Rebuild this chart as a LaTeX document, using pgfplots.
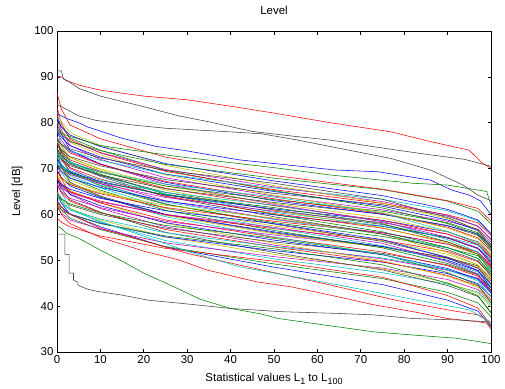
\documentclass[border=0pt]{standalone}
\usepackage{fontspec}
\setmainfont{Liberation Sans}
\usepackage{pgfplots}
\pgfplotsset{compat=1.18}
\definecolor{mb}{rgb}{0,0,1}
\definecolor{mg}{rgb}{0,0.5,0}
\definecolor{mr}{rgb}{1,0,0}
\definecolor{mc}{rgb}{0,0.75,0.75}
\definecolor{mm}{rgb}{0.75,0,0.75}
\definecolor{my}{rgb}{0.75,0.75,0}
\definecolor{mk}{rgb}{0.25,0.25,0.25}
\begin{document}
\begin{tikzpicture}
\useasboundingbox (-57bp,-37bp) rectangle (448bp,352bp);
\begin{axis}[
  at={(0,0)}, anchor=south west,
  scale only axis, width=434bp, height=321bp,
  xmin=0, xmax=100, ymin=30, ymax=100,
  xtick={0,10,...,100}, ytick={30,40,...,100},
  tick pos=both,
  tick align=inside, major tick length=3.5bp,
  axis line style={line width=0.9pt},
  every tick/.style={black, line width=0.7pt},
  font=\fontsize{11.5}{13}\selectfont,
  ticklabel style={font=\fontsize{11.5}{13}\selectfont},
  /pgf/number format/assume math mode=true,
  title={Level},
  title style={at={(rel axis cs:0.5,1)}, anchor=base, yshift=11bp, font=\fontsize{11.5}{13}\selectfont},
  xlabel={Statistical values L\raisebox{-3bp}{\fontsize{9}{9}\selectfont 1} to L\raisebox{-3bp}{\fontsize{9}{9}\selectfont 100}},
  xlabel style={at={(rel axis cs:0.5,0)}, anchor=base, yshift=-29bp},
  cycle list={{mb},{mg},{mr},{mc},{mm},{my},{mk}},
  every axis plot/.append style={line width=0.55pt},
  no markers,
]
% bulk series: x = 0,1,3,10,25,50,75,90,97,100
\addplot coordinates {(0,64.5)(1,62.5)(3,60.0)(10,57.3)(25,52.9)(50,48.5)(75,44.7)(90,41.3)(97,38.9)(100,35.5)};
\addplot coordinates {(0,62.7)(1,61.0)(3,59.2)(10,56.7)(25,53.0)(50,49.2)(75,46.0)(90,43.0)(97,40.7)(100,37.7)};
\addplot coordinates {(0,59.3)(1,58.3)(3,57.3)(10,55.3)(25,52.6)(50,49.8)(75,46.3)(90,42.3)(97,39.6)(100,35.8)};
\addplot coordinates {(0,68.3)(1,64.8)(3,61.3)(10,58.3)(25,54.3)(50,50.3)(75,47.3)(90,44.8)(97,43.1)(100,40.3)};
\addplot coordinates {(0,61.8)(1,60.3)(3,58.8)(10,56.8)(25,53.8)(50,50.8)(75,48.3)(90,45.8)(97,43.6)(100,40.8)};
\addplot coordinates {(0,64.8)(1,63.1)(3,61.3)(10,58.8)(25,55.1)(50,51.3)(75,48.1)(90,45.1)(97,42.8)(100,39.8)};
\addplot coordinates {(0,67.7)(1,65.7)(3,63.2)(10,60.5)(25,56.1)(50,51.7)(75,47.9)(90,44.5)(97,42.1)(100,38.7)};
\addplot coordinates {(0,63.1)(1,61.6)(3,60.1)(10,58.1)(25,55.1)(50,52.1)(75,49.6)(90,47.1)(97,44.9)(100,42.1)};
\addplot coordinates {(0,62.0)(1,61.0)(3,60.0)(10,58.0)(25,55.3)(50,52.5)(75,49.0)(90,45.0)(97,42.3)(100,38.5)};
\addplot coordinates {(0,66.4)(1,64.7)(3,62.9)(10,60.4)(25,56.7)(50,52.9)(75,49.7)(90,46.7)(97,44.4)(100,41.4)};
\addplot coordinates {(0,64.0)(1,62.5)(3,61.0)(10,59.0)(25,56.0)(50,53.0)(75,50.5)(90,48.0)(97,45.8)(100,43.0)};
\addplot coordinates {(0,71.3)(1,67.8)(3,64.3)(10,61.3)(25,57.3)(50,53.3)(75,50.3)(90,47.8)(97,46.1)(100,43.3)};
\addplot coordinates {(0,69.7)(1,67.7)(3,65.2)(10,62.5)(25,58.1)(50,53.7)(75,49.9)(90,46.5)(97,44.1)(100,40.7)};
\addplot coordinates {(0,65.0)(1,63.5)(3,62.0)(10,60.0)(25,57.0)(50,54.0)(75,51.5)(90,49.0)(97,46.8)(100,44.0)};
\addplot coordinates {(0,67.9)(1,66.2)(3,64.4)(10,61.9)(25,58.2)(50,54.4)(75,51.2)(90,48.2)(97,45.9)(100,42.9)};
\addplot coordinates {(0,64.3)(1,63.3)(3,62.3)(10,60.3)(25,57.6)(50,54.8)(75,51.3)(90,47.3)(97,44.6)(100,40.8)};
\addplot coordinates {(0,68.5)(1,66.8)(3,65.0)(10,62.5)(25,58.8)(50,55.0)(75,51.8)(90,48.8)(97,46.5)(100,43.5)};
\addplot coordinates {(0,71.1)(1,69.1)(3,66.6)(10,63.9)(25,59.5)(50,55.1)(75,51.3)(90,47.9)(97,45.5)(100,42.1)};
\addplot coordinates {(0,66.5)(1,65.0)(3,63.5)(10,61.5)(25,58.5)(50,55.5)(75,53.0)(90,50.5)(97,48.3)(100,45.5)};
\addplot coordinates {(0,73.8)(1,70.3)(3,66.8)(10,63.8)(25,59.8)(50,55.8)(75,52.8)(90,50.3)(97,48.6)(100,45.8)};
\addplot coordinates {(0,74.0)(1,70.5)(3,67.0)(10,64.0)(25,60.0)(50,56.0)(75,53.0)(90,50.5)(97,48.8)(100,46.0)};
\addplot coordinates {(0,69.7)(1,68.0)(3,66.2)(10,63.7)(25,60.0)(50,56.2)(75,53.0)(90,50.0)(97,47.7)(100,44.7)};
\addplot coordinates {(0,72.5)(1,70.5)(3,68.0)(10,65.3)(25,60.9)(50,56.5)(75,52.7)(90,49.3)(97,46.9)(100,43.5)};
\addplot coordinates {(0,67.9)(1,66.4)(3,64.9)(10,62.9)(25,59.9)(50,56.9)(75,54.4)(90,51.9)(97,49.7)(100,46.9)};
\addplot coordinates {(0,73.0)(1,71.0)(3,68.5)(10,65.8)(25,61.4)(50,57.0)(75,53.2)(90,49.8)(97,47.4)(100,44.0)};
\addplot coordinates {(0,66.7)(1,65.7)(3,64.7)(10,62.7)(25,60.0)(50,57.2)(75,53.7)(90,49.7)(97,47.0)(100,43.2)};
\addplot coordinates {(0,71.0)(1,69.3)(3,67.5)(10,65.0)(25,61.3)(50,57.5)(75,54.3)(90,51.3)(97,49.0)(100,46.0)};
\addplot coordinates {(0,73.9)(1,71.9)(3,69.4)(10,66.7)(25,62.3)(50,57.9)(75,54.1)(90,50.7)(97,48.3)(100,44.9)};
\addplot coordinates {(0,67.5)(1,66.5)(3,65.5)(10,63.5)(25,60.8)(50,58.0)(75,54.5)(90,50.5)(97,47.8)(100,44.0)};
\addplot coordinates {(0,76.2)(1,72.7)(3,69.2)(10,66.2)(25,62.2)(50,58.2)(75,55.2)(90,52.7)(97,51.0)(100,48.2)};
\addplot coordinates {(0,69.5)(1,68.0)(3,66.5)(10,64.5)(25,61.5)(50,58.5)(75,56.0)(90,53.5)(97,51.3)(100,48.5)};
\addplot coordinates {(0,72.4)(1,70.7)(3,68.9)(10,66.4)(25,62.7)(50,58.9)(75,55.7)(90,52.7)(97,50.4)(100,47.4)};
\addplot coordinates {(0,77.0)(1,73.5)(3,70.0)(10,67.0)(25,63.0)(50,59.0)(75,56.0)(90,53.5)(97,51.8)(100,49.0)};
\addplot coordinates {(0,68.7)(1,67.7)(3,66.7)(10,64.7)(25,62.0)(50,59.2)(75,55.7)(90,51.7)(97,49.0)(100,45.2)};
\addplot coordinates {(0,75.5)(1,73.5)(3,71.0)(10,68.3)(25,63.9)(50,59.5)(75,55.7)(90,52.3)(97,49.9)(100,46.5)};
\addplot coordinates {(0,70.9)(1,69.4)(3,67.9)(10,65.9)(25,62.9)(50,59.9)(75,57.4)(90,54.9)(97,52.7)(100,49.9)};
\addplot coordinates {(0,76.0)(1,74.0)(3,71.5)(10,68.8)(25,64.4)(50,60.0)(75,56.2)(90,52.8)(97,50.4)(100,47.0)};
\addplot coordinates {(0,73.7)(1,72.0)(3,70.2)(10,67.7)(25,64.0)(50,60.2)(75,57.0)(90,54.0)(97,51.7)(100,48.7)};
\addplot coordinates {(0,78.5)(1,75.0)(3,71.5)(10,68.5)(25,64.5)(50,60.5)(75,57.5)(90,55.0)(97,53.3)(100,50.5)};
\addplot coordinates {(0,71.7)(1,70.2)(3,68.7)(10,66.7)(25,63.7)(50,60.7)(75,58.2)(90,55.7)(97,53.5)(100,50.7)};
\addplot coordinates {(0,76.9)(1,74.9)(3,72.4)(10,69.7)(25,65.3)(50,60.9)(75,57.1)(90,53.7)(97,51.3)(100,47.9)};
\addplot coordinates {(0,74.5)(1,72.8)(3,71.0)(10,68.5)(25,64.8)(50,61.0)(75,57.8)(90,54.8)(97,52.5)(100,49.5)};
\addplot coordinates {(0,72.2)(1,70.7)(3,69.2)(10,67.2)(25,64.2)(50,61.2)(75,58.7)(90,56.2)(97,54.0)(100,51.2)};
\addplot coordinates {(0,71.0)(1,70.0)(3,69.0)(10,67.0)(25,64.3)(50,61.5)(75,58.0)(90,54.0)(97,51.3)(100,47.5)};
\addplot coordinates {(0,75.4)(1,73.7)(3,71.9)(10,69.4)(25,65.7)(50,61.9)(75,58.7)(90,55.7)(97,53.4)(100,50.4)};
\addplot coordinates {(0,71.5)(1,70.5)(3,69.5)(10,67.5)(25,64.8)(50,62.0)(75,58.5)(90,54.5)(97,51.8)(100,48.0)};
\addplot coordinates {(0,78.2)(1,76.2)(3,73.7)(10,71.0)(25,66.6)(50,62.2)(75,58.4)(90,55.0)(97,52.6)(100,49.2)};
\addplot coordinates {(0,75.9)(1,74.2)(3,72.4)(10,69.9)(25,66.2)(50,62.4)(75,59.2)(90,56.2)(97,53.9)(100,50.9)};
\addplot coordinates {(0,73.6)(1,72.1)(3,70.6)(10,68.6)(25,65.6)(50,62.6)(75,60.1)(90,57.6)(97,55.4)(100,52.6)};
\addplot coordinates {(0,81.0)(1,77.5)(3,74.0)(10,71.0)(25,67.0)(50,63.0)(75,60.0)(90,57.5)(97,55.8)(100,53.0)};
\addplot coordinates {(0,74.2)(1,72.7)(3,71.2)(10,69.2)(25,66.2)(50,63.2)(75,60.7)(90,58.2)(97,56.0)(100,53.2)};
\addplot coordinates {(0,76.9)(1,75.2)(3,73.4)(10,70.9)(25,67.2)(50,63.4)(75,60.2)(90,57.2)(97,54.9)(100,51.9)};
\addplot coordinates {(0,73.3)(1,72.3)(3,71.3)(10,69.3)(25,66.6)(50,63.8)(75,60.3)(90,56.3)(97,53.6)(100,49.8)};
\addplot coordinates {(0,82.0)(1,78.5)(3,75.0)(10,72.0)(25,68.0)(50,64.0)(75,61.0)(90,58.5)(97,56.8)(100,54.0)};
\addplot coordinates {(0,80.2)(1,78.2)(3,75.7)(10,73.0)(25,68.6)(50,64.2)(75,60.4)(90,57.0)(97,54.6)(100,51.2)};
\addplot coordinates {(0,75.6)(1,74.1)(3,72.6)(10,70.6)(25,67.6)(50,64.6)(75,62.1)(90,59.6)(97,57.4)(100,54.6)};
\addplot coordinates {(0,78.5)(1,76.8)(3,75.0)(10,72.5)(25,68.8)(50,65.0)(75,61.8)(90,58.8)(97,56.5)(100,53.5)};
\addplot coordinates {(0,81.2)(1,79.2)(3,76.7)(10,74.0)(25,69.6)(50,65.2)(75,61.4)(90,58.0)(97,55.6)(100,52.2)};
\addplot coordinates {(0,83.4)(1,79.9)(3,76.4)(10,73.4)(25,69.4)(50,65.4)(75,62.4)(90,59.9)(97,58.2)(100,55.4)};
\addplot coordinates {(0,76.8)(1,75.3)(3,73.8)(10,71.8)(25,68.8)(50,65.8)(75,63.3)(90,60.8)(97,58.6)(100,55.8)};
\addplot coordinates {(0,79.5)(1,77.8)(3,76.0)(10,73.5)(25,69.8)(50,66.0)(75,62.8)(90,59.8)(97,57.5)(100,54.5)};
\addplot coordinates {(0,82.3)(1,80.3)(3,77.8)(10,75.1)(25,70.7)(50,66.3)(75,62.5)(90,59.1)(97,56.7)(100,53.3)};
\addplot coordinates {(0,76.3)(1,75.3)(3,74.3)(10,72.3)(25,69.6)(50,66.8)(75,63.3)(90,59.3)(97,56.6)(100,52.8)};
\addplot coordinates {(0,80.8)(1,79.1)(3,77.3)(10,74.8)(25,71.1)(50,67.3)(75,64.1)(90,61.1)(97,58.8)(100,55.8)};
\addplot coordinates {(0,78.9)(1,77.4)(3,75.9)(10,73.9)(25,70.9)(50,67.9)(75,65.4)(90,62.9)(97,60.7)(100,57.9)};
\addplot coordinates {(0,86.5)(1,83.0)(3,79.5)(10,76.5)(25,72.5)(50,68.5)(75,65.5)(90,63.0)(97,61.3)(100,58.5)};
% distinct curves
\addplot[mb] coordinates {(0,82)(2,81)(5,80)(7,79.1)(15,76.6)(23,74.8)(29,74)(42,71.9)(64,69.7)(74,69.3)(86,67.5)(91,65.3)(95,64.2)(97.5,63)(100,60)};
\addplot[mg] coordinates {(0,78)(3,77)(10,75)(28,72.6)(50,70.2)(63,68.6)(82,66.8)(90,66.4)(99,65)(100,62)};
\addplot[mr] coordinates {(0,62)(1,60)(3,58)(10,55)(20,52)(28,50.1)(34.5,47.9)(46,45.3)(54,44.2)(63,42.4)(73,40.3)(82,38.8)(90,37.3)(97,36.6)(99,36.3)(100,35)};
\addplot[mr] coordinates {(0,63)(2,60.5)(10,57)(30,51.5)(50,47.3)(63,44.6)(78,41.3)(90,39.2)(97,38.1)(100,36.5)};
\addplot[mc] coordinates {(0,64)(3,61)(10,58.5)(30,52)(42,48.6)(65,44.6)(83,41.3)(95,39.2)(99,37)(100,36)};
\addplot[mr] coordinates {(0,90.2)(1,90)(2,89.3)(5,88.2)(10,87.1)(20,85.8)(30,85.0)(40,83.6)(50,82.1)(63,80.0)(77,78.0)(86,75.9)(95,74.0)(98,71.2)(100,70.1)};
\addplot[mk] coordinates {(0,91.3)(1,91.3)(1.5,89.5)(3,88.8)(5,87.5)(10,85.8)(20,83.5)(28,81.5)(35,80.2)(45,78.1)(55,77.0)(63,76.2)(77,74.2)(86,73.0)(94,72.0)(98,71.0)(100,70.5)};
\addplot[mk] coordinates {(0,84)(2,83)(5,81.5)(9,80.5)(17.5,79.5)(25,78.8)(40,78.0)(47,77.6)(55,76.3)(63,74.8)(77,72.2)(86,69.7)(93.6,66.4)(97,64.2)(100,63)};
\addplot[mk] coordinates {(0,55.7)(1.8,55.7)(1.8,51.3)(2.8,51.3)(2.8,47.2)(3.8,47.2)(3.8,45.7)(4.8,45.2)(4.8,44.6)(7,43.7)(9.4,43.2)(15,42.4)(21,41.3)(28.7,40.6)(40,39.5)(51.4,38.8)(65,38.4)(73,38.1)(82,37.3)(92,37)(99,36.6)(100,35.6)};
\addplot[mg] coordinates {(0,57.5)(1,57)(2,56)(5,54.8)(10,52.2)(15,49.8)(20,47.2)(27,44.2)(33,41.5)(40,39.5)(47,38.3)(51,37.3)(63,35.7)(73,34.4)(82,33.7)(92,33)(99,32)(100,31.8)};
\end{axis}
\node[rotate=90, anchor=base, font=\fontsize{11.5}{13}\selectfont] at (-37bp,160.5bp) {Level [dB]};
\end{tikzpicture}
\end{document}
